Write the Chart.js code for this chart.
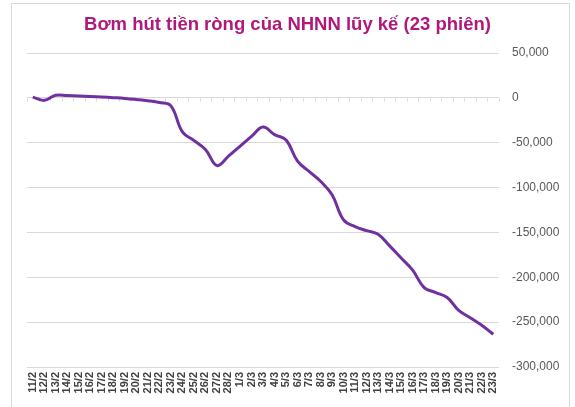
<!DOCTYPE html>
<html>
<head>
<meta charset="utf-8">
<script src="https://cdn.jsdelivr.net/npm/chart.js@4/dist/chart.umd.min.js"></script>
<style>
  html, body { margin: 0; padding: 0; background: #ffffff; }
  #wrap { width: 575px; height: 407px; position: relative; }
</style>
</head>
<body>
<div id="wrap"><canvas id="c" width="575" height="407"></canvas></div>
<script>
const titleText = "Bơm hút tiền ròng của NHNN lũy kế (23 phiên)";

const categories = [
  "11/2","12/2","13/2","14/2","15/2","16/2","17/2","18/2","19/2","20/2",
  "21/2","22/2","23/2","24/2","25/2","26/2","27/2","28/2",
  "1/3","2/3","3/3","4/3","5/3","6/3","7/3","8/3","9/3","10/3",
  "11/3","12/3","13/3","14/3","15/3","16/3","17/3","18/3","19/3","20/3",
  "21/3","22/3","23/3"
];

const cumulativeValues = [
  800, -2800, 3000, 2500, 2000, 1500, 900, 200, -600, -1800,
  -3200, -5200, -9000, -38000, -47500, -57500, -75500, -65000,
  -54000, -43000, -32500, -41000, -47000, -70500, -82000, -93000, -108000, -136000,
  -143500, -148000, -152000, -165000, -178500, -192000, -211500, -217000, -222500, -237000,
  -245000, -253500, -263500
];

const yTickValues = [50000, 0, -50000, -100000, -150000, -200000, -250000, -300000];

const frameBorder = {
  id: 'frameBorder',
  beforeDraw(chart) {
    const ctx = chart.ctx;
    ctx.save();
    ctx.fillStyle = '#ffffff';
    ctx.fillRect(0, 0, chart.width, chart.height);
    ctx.strokeStyle = '#d9d9d9';
    ctx.lineWidth = 1;
    ctx.strokeRect(11.5, 3.5, 558, 420);
    ctx.restore();
  }
};

const zeroTicks = {
  id: 'zeroTicks',
  beforeDatasetsDraw(chart) {
    const x = chart.scales.x, y = chart.scales.y;
    const y0 = Math.round(y.getPixelForValue(0)) + 0.5;
    const ctx = chart.ctx;
    ctx.save();
    ctx.strokeStyle = '#d9d9d9';
    ctx.lineWidth = 1;
    const n = categories.length;
    const half = (x.getPixelForValue(1) - x.getPixelForValue(0)) / 2;
    for (let i = 0; i <= n; i++) {
      const px = Math.round(x.getPixelForValue(Math.min(i, n - 1)) + (i === n ? half : -half)) + 0.5;
      ctx.beginPath();
      ctx.moveTo(px, y0);
      ctx.lineTo(px, y0 + 3);
      ctx.stroke();
    }
    ctx.restore();
  }
};

new Chart(document.getElementById('c'), {
  type: 'line',
  data: {
    labels: categories,
    datasets: [{
      data: cumulativeValues,
      borderColor: '#7030A0',
      borderWidth: 3,
      pointRadius: 0,
      tension: 0.4,
      fill: false,
      yAxisID: 'y'
    }]
  },
  options: {
    responsive: false,
    animation: false,
    devicePixelRatio: 1,
    layout: { padding: 0 },
    plugins: {
      legend: { display: false },
      tooltip: { enabled: false },
      title: {
        display: true,
        text: titleText,
        color: '#B0187C',
        font: { family: 'Liberation Sans', size: 18.5, weight: 'bold', lineHeight: 1.2 },
        padding: { top: 14, bottom: 16.8 }
      }
    },
    scales: {
      x: {
        type: 'category',
        offset: true,
        grid: { display: false, drawTicks: false },
        border: { display: false },
        ticks: {
          autoSkip: false,
          minRotation: 90,
          maxRotation: 90,
          padding: 5,
          color: '#404040',
          font: { family: 'Liberation Sans', size: 11, weight: 'bold' }
        },
        afterFit(scale) { scale.height = 40; }
      },
      yLeft: {
        position: 'left',
        display: true,
        grid: { display: false, drawTicks: false },
        border: { display: false },
        ticks: { display: false },
        afterFit(scale) { scale.width = 27; }
      },
      y: {
        position: 'right',
        min: -300000,
        max: 50000,
        afterBuildTicks(scale) {
          scale.ticks = yTickValues.map(v => ({ value: v }));
        },
        grid: { color: '#d9d9d9', lineWidth: 1, drawTicks: false },
        border: { display: false },
        ticks: {
          padding: 13,
          crossAlign: 'near',
          color: '#595959',
          font: { family: 'Liberation Sans', size: 12 },
          callback: v => Number(v).toLocaleString('en-US')
        },
        afterFit(scale) { scale.width = 76; }
      }
    }
  },
  plugins: [frameBorder, zeroTicks]
});
</script>
</body>
</html>
